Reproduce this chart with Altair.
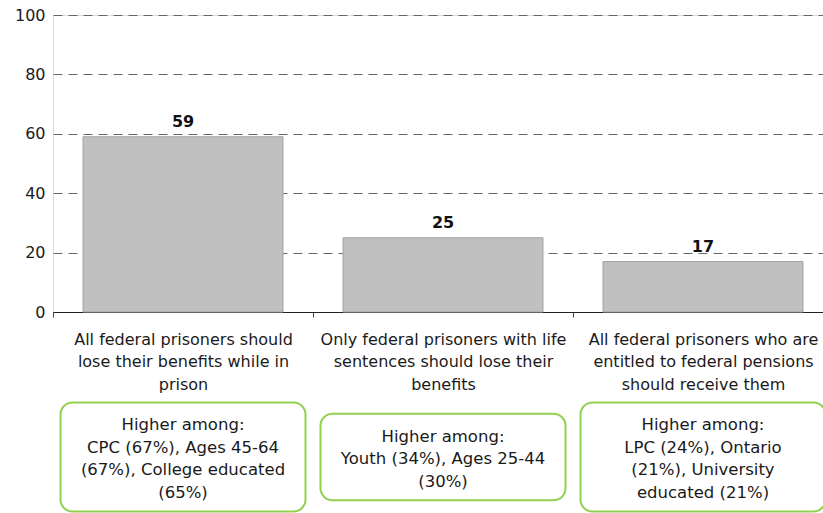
import altair as alt
import pandas as pd

categories = [
    "All federal prisoners should|lose their benefits while in|prison",
    "Only federal prisoners with life|sentences should lose their|benefits",
    "All federal prisoners who are|entitled to federal pensions|should receive them",
]
values = [59, 25, 17]
notes = [
    "Higher among:|CPC (67%), Ages 45-64|(67%), College educated|(65%)",
    "Higher among:|Youth (34%), Ages 25-44|(30%)",
    "Higher among:|LPC (24%), Ontario|(21%), University|educated (21%)",
]
y_ticks = [0, 20, 40, 60, 80, 100]

line_counts = [len(n.split("|")) for n in notes]
df = pd.DataFrame({"cat": categories, "val": values, "note": notes, "nl": line_counts})

FONT = "DejaVu Sans"
FS = 16
TXT = "#1a1a1a"
W, H = 770, 297
STEP = 260
BOX_CY = 442
LH = 22.5

xscale = alt.Scale(domain=categories, paddingInner=60 / 260, paddingOuter=0.0962, align=0.6)
yscale = alt.Scale(domain=[0, 100], nice=False)

x_enc = alt.X(
    "cat:N",
    scale=xscale,
    sort=None,
    title=None,
    axis=alt.Axis(
        labelExpr="split(datum.label, '|')",
        labelAngle=0,
        labelFont=FONT,
        labelFontSize=FS,
        labelColor=TXT,
        labelLineHeight=LH,
        labelPadding=14,
        labelBaseline="top",
        grid=False,
        tickSize=5,
        tickColor="#444",
        tickOffset=-STEP / 2,
        labelOffset=STEP / 2,
        domainColor="#222",
        labelLimit=400,
    ),
)
x_plain = alt.X("cat:N", scale=xscale, sort=None)

base = alt.Chart(df)

bars = base.mark_bar(fill="#c0c0c0", stroke="#a3a3a3", strokeWidth=1).encode(
    x=x_enc,
    y=alt.Y(
        "val:Q",
        scale=yscale,
        title=None,
        axis=alt.Axis(
            values=y_ticks,
            grid=True,
            gridDash=[9, 6],
            gridColor="#666",
            gridWidth=1,
            domain=False,
            ticks=False,
            labelFont=FONT,
            labelFontSize=FS,
            labelColor=TXT,
            labelPadding=8,
        ),
    ),
)

labels = base.mark_text(
    font=FONT, fontSize=FS, fontWeight="bold", color="#111", baseline="alphabetic", dy=-10
).encode(x=x_plain, y=alt.Y("val:Q"), text="val:Q")

layers = [bars, labels]
for n in sorted(set(line_counts)):
    h = n * LH + 19
    sub = base.transform_filter(alt.datum.nl == n)
    layers.append(
        sub.mark_rect(
            width=245, cornerRadius=12, fill="white", stroke="#92D050", strokeWidth=2
        ).encode(x=x_plain, y=alt.value(BOX_CY - h / 2), y2=alt.value(BOX_CY + h / 2))
    )
    layers.append(
        sub.mark_text(
            font=FONT, fontSize=16.5, color=TXT, lineBreak="|", lineHeight=LH,
            baseline="middle", align="center",
        ).encode(x=x_plain, y=alt.value(BOX_CY + 2 - (n - 1) * LH / 2), text="note:N")
    )

chart = (
    alt.layer(*layers)
    .properties(
        width=W,
        height=H,
        autosize=alt.AutoSizeParams(type="none"),
        padding={"left": 53, "top": 15, "right": 0, "bottom": 201},
    )
    .configure_view(stroke=None, strokeWidth=0)
    .configure_axisY(domain=False, ticks=False)
    .configure(background="white")
)

chart.save("out.html", embed_options={"renderer": "svg", "actions": False})
